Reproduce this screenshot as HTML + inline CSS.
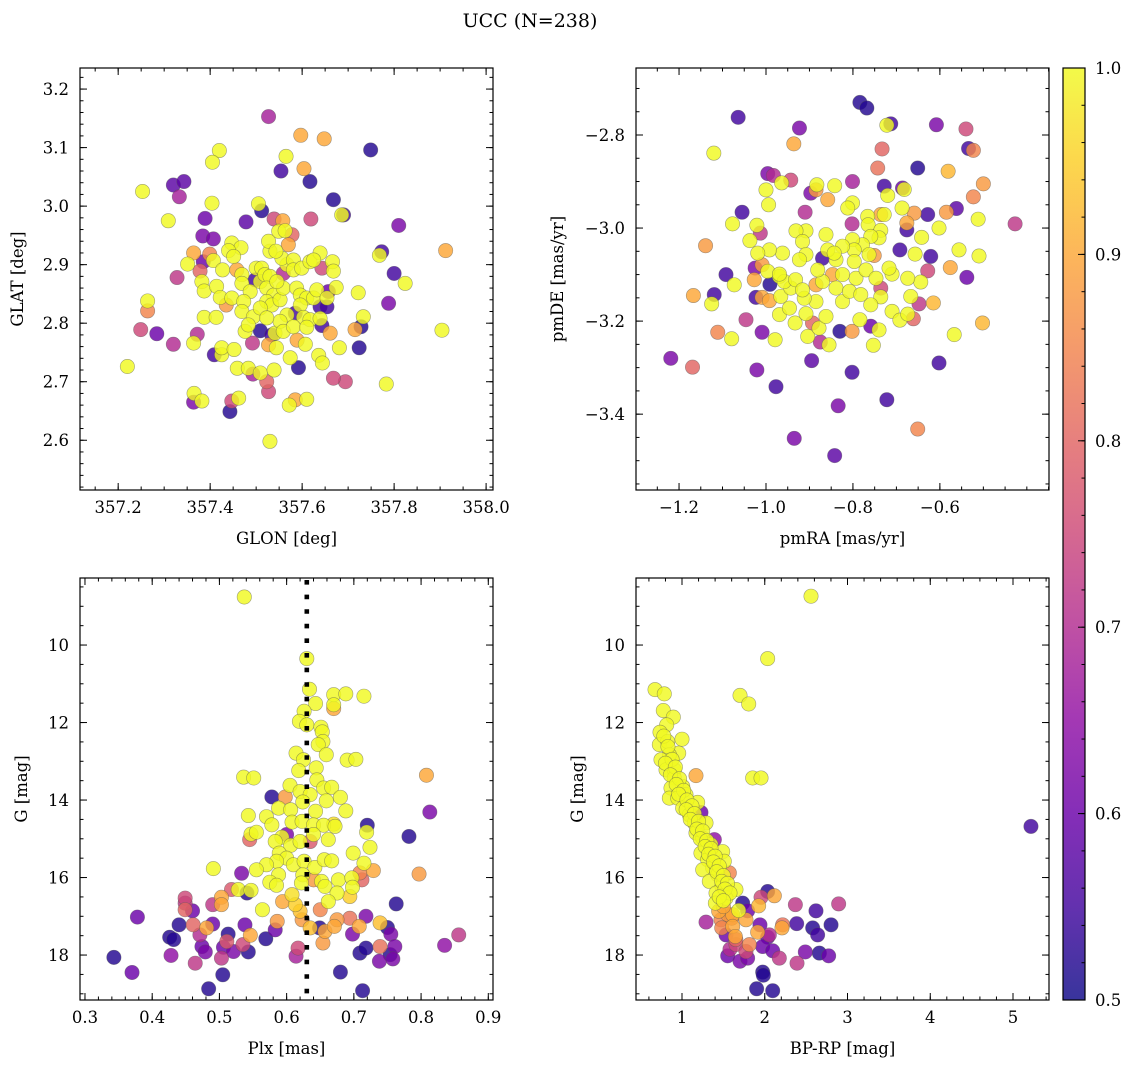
<!DOCTYPE html>
<html><head><meta charset="utf-8"><title>UCC (N=238)</title>
<style>
html,body{margin:0;padding:0;background:#fff;}
svg{display:block;font-family:"DejaVu Serif","Liberation Serif",serif;}
</style></head>
<body>
<svg id="fig" width="1136" height="1067" viewBox="0 0 1136 1067" xmlns="http://www.w3.org/2000/svg">
<text x="530" y="27" font-size="19" text-anchor="middle">UCC (N=238)</text>
</svg>
<script>
// ---------- Panel 1: GLON vs GLAT ----------
const p1Glon=[
357.527,357.597,357.648,357.749,357.420,357.405,357.565,357.554,357.604,357.617,
357.320,357.343,357.333,357.253,357.404,357.505,357.512,357.668,357.690,357.686,
357.389,357.478,357.539,357.558,357.619,357.309,357.810,357.384,357.407,357.578,
357.549,357.563,357.912,357.773,357.768,357.800,357.824,357.788,357.722,357.733,
357.715,357.728,357.724,357.904,357.783,357.694,357.668,357.610,357.572,357.585,
357.527,357.530,357.443,357.447,357.462,357.365,357.364,357.382,357.220,357.249,
357.284,357.264,357.264,357.320,357.364,357.372,357.409,357.425,357.425,357.452,
357.387,357.413,357.492,357.509,357.534,357.541,357.527,357.544,357.589,357.607,
357.574,357.592,357.636,357.644,357.681,357.643,357.661,357.459,357.483,357.509,
357.493,357.523,357.539,357.328,357.378,357.385,357.364,357.399,357.351,357.407,
357.427,357.382,357.387,357.447,357.467,357.440,357.451,357.414,357.422,357.447,
357.435,357.458,357.469,357.469,357.487,357.473,357.469,357.494,357.476,357.483,
357.500,357.512,357.509,357.498,357.519,357.530,357.523,357.538,357.523,357.534,
357.509,357.552,357.559,357.545,357.559,357.567,357.556,357.530,357.527,357.543,
357.570,357.581,357.581,357.599,357.617,357.639,357.625,357.666,357.668,357.643,
357.588,357.596,357.610,357.625,357.632,357.654,357.657,357.674,357.639,357.654,
357.585,357.596,357.567,357.603,357.617,357.639,357.552,357.523,357.559,357.581,
357.610];
const p1Glat=[
3.153,3.121,3.115,3.096,3.095,3.075,3.085,3.060,3.064,3.042,
3.036,3.042,3.016,3.025,3.005,3.004,2.992,3.011,2.985,2.985,
2.979,2.973,2.978,2.975,2.978,2.975,2.967,2.949,2.944,2.951,
2.957,2.958,2.924,2.922,2.916,2.885,2.868,2.834,2.852,2.811,
2.789,2.794,2.758,2.788,2.696,2.700,2.706,2.670,2.660,2.669,
2.683,2.598,2.649,2.667,2.672,2.680,2.665,2.667,2.726,2.789,
2.782,2.821,2.838,2.764,2.766,2.781,2.746,2.746,2.758,2.755,
2.810,2.810,2.766,2.787,2.780,2.783,2.763,2.758,2.771,2.764,
2.741,2.724,2.745,2.732,2.758,2.796,2.783,2.723,2.723,2.715,
2.713,2.700,2.720,2.878,2.889,2.905,2.920,2.918,2.901,2.907,
2.891,2.871,2.855,2.937,2.929,2.924,2.914,2.863,2.844,2.843,
2.831,2.891,2.883,2.868,2.854,2.837,2.820,2.811,2.786,2.797,
2.894,2.894,2.871,2.874,2.883,2.880,2.860,2.848,2.837,2.831,
2.826,2.840,2.860,2.871,2.885,2.900,2.911,2.923,2.940,2.923,
2.934,2.908,2.891,2.894,2.905,2.920,2.908,2.905,2.889,2.894,
2.860,2.848,2.843,2.843,2.857,2.843,2.854,2.861,2.828,2.828,
2.817,2.831,2.814,2.810,2.806,2.808,2.803,2.809,2.786,2.794,
2.793];
const p1Prob=[
.68,.9,.9,.52,1,1,1,.55,.9,.52,
.58,.58,.68,1,1,1,.52,.52,.55,1,
.6,.58,.75,.9,.75,1,.62,.62,.62,.8,
1,1,.9,.55,1,.55,1,.62,1,1,
.9,.52,.52,1,1,.75,.75,1,1,.9,
.75,1,.52,.75,1,1,.62,1,1,.75,
.6,.85,1,.7,1,.7,.55,1,1,1,
1,1,.72,.52,.55,1,.9,1,.9,1,
1,.52,1,1,1,.55,.9,1,1,1,
.68,.8,1,.72,.8,.6,.9,.85,1,1,
1,1,1,1,1,1,1,1,1,1,
.88,.9,1,1,1,1,1,1,1,1,
1,1,1,.55,1,1,1,1,1,1,
1,1,1,1,.7,1,1,1,1,1,
.9,1,1,1,1,1,1,1,1,.75,
1,1,1,1,1,1,.6,1,.55,.55,
.55,1,1,1,1,1,1,1,1,1,
1];

// ---------- Panel 2: pmRA vs pmDE ----------
const p2PmRA=[
-0.784,-0.768,-1.064,-0.923,-0.713,-0.722,-0.608,-0.540,-0.534,-0.523,
-0.936,-0.733,-1.120,-0.743,-0.651,-0.581,-0.500,-0.523,-0.996,-0.983,
-0.943,-0.964,-1.000,-0.994,-0.883,-0.897,-0.885,-0.842,-0.858,-0.801,
-0.728,-0.686,-0.720,-0.682,-0.801,-0.812,-0.910,-1.055,-1.077,-1.021,
-1.013,-1.037,-0.766,-0.736,-0.728,-0.687,-0.659,-0.628,-0.585,-0.562,
-0.512,-0.427,-0.676,-0.676,-0.602,-0.642,-0.802,-0.765,-0.736,-1.139,
-1.092,-1.073,-1.025,-1.009,-1.027,-0.991,-1.023,-1.009,-0.992,-1.167,
-1.119,-1.125,-1.046,-1.111,-1.079,-1.009,-0.979,-1.219,-1.169,-1.021,
-0.977,-0.895,-0.834,-0.802,-0.722,-0.602,-0.651,-0.935,-0.842,-0.567,
-0.502,-0.615,-0.648,-0.667,-0.576,-0.538,-0.556,-0.510,-0.628,-0.621,
-0.657,-0.692,-0.644,-0.674,-0.710,-0.736,-0.736,-0.710,-0.692,-0.674,
-0.661,-0.759,-0.784,-0.759,-0.740,-0.753,-0.802,-0.830,-0.855,-0.875,
-0.904,-0.878,-0.933,-0.969,-0.946,-0.893,-0.862,-0.908,-0.885,-0.912,
-0.966,-0.943,-0.969,-0.958,-0.932,-0.916,-0.885,-0.870,-0.839,-0.824,
-0.808,-0.793,-0.782,-0.770,-0.747,-0.717,-0.740,-0.759,-0.778,-0.801,
-0.797,-0.824,-0.839,-0.862,-0.858,-0.843,-0.870,-0.908,-0.931,-0.916,
-0.908,-0.923,-0.962,-0.992,-1.019,-0.996,-0.969,-0.881,-0.847,-0.824,
-0.751,-0.763,-0.797];
const p2PmDE=[
-2.730,-2.742,-2.762,-2.785,-2.776,-2.779,-2.778,-2.787,-2.829,-2.833,
-2.819,-2.830,-2.839,-2.871,-2.871,-2.878,-2.905,-2.933,-2.883,-2.887,
-2.897,-2.903,-2.918,-2.950,-2.907,-2.925,-2.918,-2.909,-2.939,-2.900,
-2.910,-2.914,-2.930,-2.917,-2.946,-2.957,-2.966,-2.966,-2.991,-2.994,
-3.011,-3.027,-2.975,-2.971,-2.971,-2.957,-2.968,-2.971,-2.966,-2.958,
-2.981,-2.991,-2.989,-3.004,-3.000,-3.020,-2.991,-2.993,-3.005,-3.038,
-3.100,-3.122,-3.086,-3.079,-3.111,-3.121,-3.149,-3.149,-3.156,-3.145,
-3.143,-3.163,-3.197,-3.224,-3.238,-3.224,-3.240,-3.280,-3.299,-3.305,
-3.341,-3.285,-3.382,-3.310,-3.369,-3.290,-3.432,-3.452,-3.489,-3.229,
-3.204,-3.161,-3.163,-3.147,-3.085,-3.106,-3.047,-3.060,-3.092,-3.061,
-3.056,-3.047,-3.116,-3.108,-3.099,-3.129,-3.148,-3.179,-3.198,-3.185,
-3.195,-3.165,-3.197,-3.211,-3.219,-3.252,-3.222,-3.222,-3.251,-3.245,
-3.233,-3.215,-3.204,-3.186,-3.172,-3.204,-3.190,-3.184,-3.158,-3.151,
-3.147,-3.129,-3.104,-3.115,-3.111,-3.133,-3.122,-3.115,-3.129,-3.158,
-3.136,-3.108,-3.143,-3.090,-3.108,-3.086,-3.021,-3.018,-3.036,-3.025,
-3.047,-3.039,-3.068,-3.014,-3.047,-3.054,-3.065,-3.006,-3.006,-3.029,
-3.057,-3.068,-3.054,-3.047,-3.054,-3.093,-3.099,-3.090,-3.100,-3.100,
-3.059,-3.057,-3.072];
const p2Prob=[
.52,.52,.55,.62,.55,1,.62,.75,.55,.85,
.9,.8,1,.82,.52,.92,.88,.85,.62,.7,
.75,1,1,1,1,.62,.88,1,.9,.68,
.55,.6,1,1,1,1,.7,.55,1,1,
.72,1,1,.9,1,1,.88,.55,.88,.58,
1,.72,.9,.55,1,1,.7,1,1,.88,
.55,1,.62,.88,.9,.52,.55,.9,.9,.9,
.55,1,.72,.85,1,.62,1,.62,.8,.62,
.55,.58,.62,.55,.55,.55,.85,.62,.58,1,
.92,.92,.72,1,.9,.6,1,1,.75,.55,
1,.55,1,1,1,.75,1,1,1,1,
.8,1,1,.6,1,1,.88,.52,1,.7,
1,1,1,1,1,.8,1,1,1,1,
1,1,1,1,1,1,.9,1,1,1,
1,1,1,1,1,1,1,1,1,1,
1,1,1,1,1,1,.55,1,1,1,
1,1,1,1,1,1,1,1,.9,1,
.88,1,1];

// ---------- Panel 3: Plx vs G ----------
const p3Plx=[
0.537,0.630,0.634,0.643,0.670,0.688,0.715,0.670,0.670,0.626,
0.619,0.630,0.651,0.653,0.654,0.647,0.659,0.614,0.625,0.690,
0.703,0.644,0.618,0.536,0.551,0.808,0.605,0.645,0.578,0.598,
0.620,0.635,0.655,0.667,0.680,0.659,0.588,0.606,0.624,0.643,
0.688,0.813,0.543,0.570,0.578,0.608,0.623,0.640,0.655,0.670,
0.720,0.719,0.672,0.547,0.555,0.545,0.600,0.593,0.583,0.606,
0.620,0.640,0.662,0.635,0.724,0.699,0.782,0.589,0.600,0.585,
0.570,0.555,0.491,0.533,0.610,0.626,0.642,0.656,0.667,0.715,
0.729,0.797,0.588,0.575,0.585,0.624,0.622,0.640,0.652,0.657,
0.677,0.697,0.698,0.675,0.709,0.712,0.518,0.528,0.541,0.547,
0.503,0.503,0.490,0.449,0.449,0.449,0.460,0.564,0.594,0.608,
0.613,0.620,0.662,0.694,0.650,0.763,0.378,0.440,0.461,0.490,
0.481,0.538,0.586,0.583,0.623,0.635,0.649,0.657,0.675,0.671,
0.694,0.708,0.718,0.739,0.750,0.755,0.698,0.426,0.432,0.471,
0.513,0.546,0.569,0.511,0.535,0.474,0.479,0.506,0.521,0.543,
0.617,0.614,0.654,0.709,0.718,0.739,0.761,0.835,0.856,0.343,
0.428,0.464,0.503,0.370,0.505,0.484,0.680,0.713,0.738,0.758,
0.754];
const p3G=[
8.76,10.35,11.14,11.51,11.28,11.26,11.32,11.54,11.64,11.71,
11.97,12.06,12.12,12.24,12.49,12.57,12.83,12.79,12.96,12.97,
12.95,13.17,13.24,13.41,13.43,13.36,13.62,13.48,13.92,13.92,
13.78,13.86,13.69,13.67,13.93,14.02,14.21,14.25,14.05,14.29,
14.28,14.31,14.40,14.43,14.64,14.57,14.55,14.64,14.65,14.62,
14.65,14.83,14.68,14.88,14.83,15.02,14.89,14.96,15.07,15.17,
15.07,14.89,15.02,15.07,15.22,15.37,14.94,15.37,15.50,15.58,
15.67,15.80,15.77,15.89,15.67,15.58,15.74,15.54,15.57,15.63,
15.82,15.91,15.93,16.12,16.20,15.93,16.14,16.06,16.10,16.23,
16.06,16.01,16.25,16.40,15.88,16.06,16.31,16.31,16.40,16.33,
16.51,16.70,16.70,16.53,16.66,16.83,16.86,16.83,16.62,16.44,
16.70,16.87,16.62,16.49,16.83,16.68,17.02,17.22,17.22,17.20,
17.30,17.22,17.13,17.35,17.09,17.30,17.30,17.39,17.09,17.26,
17.05,17.26,17.00,17.17,17.29,17.46,17.46,17.54,17.60,17.48,
17.46,17.49,17.58,17.65,17.73,17.78,17.92,17.80,17.91,17.92,
17.82,18.03,17.69,17.95,17.82,17.78,17.78,17.75,17.48,18.06,
18.01,18.21,18.08,18.45,18.51,18.87,18.44,18.92,18.16,18.10,
17.99];
const p3Prob=[
1,1,1,1,1,1,1,1,.9,1,
1,1,1,1,1,1,1,1,1,1,
1,1,1,1,1,.9,1,1,.52,.88,
1,1,1,1,1,1,1,1,1,1,
1,.62,1,1,1,1,1,1,1,.97,
.52,1,1,1,1,.8,.62,1,1,1,
1,1,1,.78,1,1,.52,1,1,1,
1,1,1,.62,1,1,1,1,1,1,
.9,.88,1,1,1,1,1,.88,1,1,
1,1,1,1,.85,.8,.78,1,.52,1,
.9,.9,.72,.75,.72,.8,.6,1,.9,.97,
.95,.93,1,.95,.85,.52,.6,.52,.8,.6,
.9,.6,.88,.6,.88,.93,.52,.9,.88,.9,
.82,.9,.62,.93,.52,.62,.62,.52,.52,.7,
.52,.9,.52,.78,.75,.6,.62,.6,.62,.52,
.75,.68,.88,.52,.52,.82,.62,.65,.72,.52,
.65,.72,.72,.6,.52,.52,.52,.52,.62,.62,
.52];
const plxRef=[0.63];

// ---------- Panel 4: BP-RP vs G ----------
const p4BpRp=[
2.559,2.035,1.701,1.806,0.674,0.786,0.774,0.895,0.815,0.734,
1.000,0.726,0.827,0.960,0.847,0.746,0.807,0.907,1.169,1.854,
1.955,0.907,1.008,0.867,0.847,0.948,1.048,1.189,1.229,1.008,
1.089,1.149,1.290,1.169,1.250,1.391,1.350,1.491,1.229,1.310,
1.511,1.370,1.250,1.572,1.431,1.330,1.483,1.652,1.411,1.532,
2.035,2.116,1.955,1.926,1.403,1.685,1.733,1.793,2.370,2.893,
2.619,1.443,1.612,1.290,1.471,1.773,1.612,1.942,2.216,2.386,
2.208,2.579,2.801,1.532,1.644,1.914,2.055,2.035,2.639,1.652,
1.814,1.975,2.096,2.490,2.660,2.772,2.176,1.552,1.701,1.793,
1.773,2.390,1.975,1.983,1.902,2.096,5.217,0.78,0.83,0.88,
0.80,0.92,0.86,0.97,0.93,1.02,0.96,1.06,1.12,1.05,
1.15,1.10,1.20,1.18,1.25,1.22,1.30,1.28,1.35,1.32,
1.40,1.38,1.45,1.42,1.50,1.48,1.55,1.52,1.58,1.45,
1.50,1.50,1.55,1.60,1.48,1.65,1.58];
const p4G=[
8.74,10.35,11.30,11.52,11.15,11.26,11.69,11.86,12.06,12.25,
12.43,12.57,12.49,12.79,12.83,12.96,13.22,13.22,13.37,13.43,
13.43,13.43,13.65,13.69,13.95,13.95,13.86,14.06,14.32,14.21,
14.38,14.59,14.59,14.85,14.98,15.02,15.15,15.33,15.37,15.54,
15.58,15.75,15.80,15.88,15.93,16.10,16.23,16.31,16.40,16.53,
16.36,16.47,16.51,16.73,16.66,16.85,16.66,16.86,16.70,16.68,
16.86,16.87,16.96,17.15,17.09,17.09,17.26,17.22,17.22,17.19,
17.30,17.30,17.22,17.48,17.52,17.41,17.48,17.54,17.48,17.73,
17.73,17.78,17.89,17.92,17.95,18.02,18.08,18.02,18.16,18.08,
17.91,18.21,18.44,18.52,18.87,18.92,14.68,12.35,12.62,12.95,
13.05,13.15,13.35,13.45,13.60,13.75,13.85,14.00,14.15,14.25,
14.35,14.50,14.55,14.75,14.80,15.00,15.05,15.20,15.25,15.40,
15.45,15.60,15.70,15.85,15.95,16.10,16.15,16.30,16.40,16.50,
16.60,16.75,16.95,17.05,17.30,17.60,17.85];
const p4Prob=[
1,1,1,1,1,1,1,1,1,1,
1,1,1,1,1,1,1,1,.9,1,
1,1,1,1,1,1,1,1,.6,1,
1,1,1,1,1,.65,1,1,1,1,
1,1,1,.85,1,1,1,1,1,1,
.52,.9,.75,.92,1,1,.52,.6,.72,.72,
.55,.9,.9,.68,.85,.9,.9,.6,.82,.55,
.9,.52,.52,.6,.9,.9,.7,.6,.55,.75,
.85,.6,.6,.62,.52,.6,.72,.6,.62,.62,
.75,.72,.52,.52,.52,.52,.55,1,1,1,
1,1,1,1,1,1,1,1,1,1,
1,1,1,1,1,1,1,1,1,1,
1,1,1,1,1,1,1,1,1,1,
1,.9,.88,.85,.85,.8,.7];

// ---------- Colorbar ----------
const cbTicks=[0.5,0.6,0.7,0.8,0.9,1.0];

// ---------- helpers ----------
const NS='http://www.w3.org/2000/svg';
const svg=document.getElementById('fig');
function mk(tag,attrs,parent){const e=document.createElementNS(NS,tag);for(const k in attrs)e.setAttribute(k,attrs[k]);(parent||svg).appendChild(e);return e;}
const stops=[[13,8,135],[65,4,157],[106,0,168],[143,13,164],[177,42,144],[204,71,120],[225,100,98],[242,132,75],[252,166,54],[252,206,37],[240,249,33]];
function plasma(t){t=Math.max(0,Math.min(1,t));const f=t*10;const i=Math.min(9,Math.floor(f));const r=f-i;const a=stops[i],b=stops[i+1];
return 'rgb('+Math.round(a[0]+(b[0]-a[0])*r)+','+Math.round(a[1]+(b[1]-a[1])*r)+','+Math.round(a[2]+(b[2]-a[2])*r)+')';}
function probColor(p){return plasma((p-0.5)/0.5);}
function fmt(v,d){const s=v.toFixed(d);return v<0?'\u2212'+s.slice(1):s;}
function range(a,b,s){const out=[];for(let v=a;v<=b+s*1e-6;v+=s)out.push(Math.round(v/s)*s);return out;}
const FS=16.5;

function panel(cfg){
  const {name,L,T,W,H,xmin,xmax,ymin,ymax,invY}=cfg;
  const sx=v=>L+(v-xmin)/(xmax-xmin)*W;
  const sy=invY?(v=>T+(v-ymin)/(ymax-ymin)*H):(v=>T+H-(v-ymin)/(ymax-ymin)*H);
  const g=mk('g',{});
  
  
  const cid=name+'-clip';
  const cp=mk('clipPath',{id:cid},g);mk('rect',{x:L,y:T,width:W,height:H},cp);
  const pts=mk('g',{'clip-path':'url(#'+cid+')'},g);
  
  
  const idx=cfg.xs.map((_,i)=>i).sort((a,b)=>cfg.ps[a]-cfg.ps[b]);
  idx.forEach(i=>{
    const c=mk('circle',{cx:sx(cfg.xs[i]).toFixed(2),cy:sy(cfg.ys[i]).toFixed(2),r:7.2,fill:probColor(cfg.ps[i]),'fill-opacity':0.82,stroke:'#555','stroke-opacity':0.55,'stroke-width':0.6},pts);
    
    
  });
  if(cfg.after)cfg.after(g,sx,sy);
  const ax=mk('g',{stroke:'#000','stroke-width':1},g);
  
  
  mk('rect',{x:L,y:T,width:W,height:H,fill:'none','stroke-width':1.2},ax);
  const xMaj=cfg.xMaj,yMaj=cfg.yMaj;
  cfg.xMin.forEach(v=>{const x=sx(v);if(x<L||x>L+W)return;mk('line',{x1:x,y1:T+H,x2:x,y2:T+H-3.5},ax);mk('line',{x1:x,y1:T,x2:x,y2:T+3.5},ax);});
  cfg.yMin.forEach(v=>{const y=sy(v);if(y<T||y>T+H)return;mk('line',{x1:L,y1:y,x2:L+3.5,y2:y},ax);mk('line',{x1:L+W,y1:y,x2:L+W-3.5,y2:y},ax);});
  xMaj.forEach(v=>{const x=sx(v);mk('line',{x1:x,y1:T+H,x2:x,y2:T+H-7},ax);mk('line',{x1:x,y1:T,x2:x,y2:T+7},ax);
    const t=mk('text',{x:x,y:T+H+23,'font-size':FS,'text-anchor':'middle',stroke:'none',fill:'#000'},g);t.textContent=fmt(v,cfg.xd);
    
    });
  yMaj.forEach(v=>{const y=sy(v);mk('line',{x1:L,y1:y,x2:L+7,y2:y},ax);mk('line',{x1:L+W,y1:y,x2:L+W-7,y2:y},ax);
    const t=mk('text',{x:L-11,y:y+6,'font-size':FS,'text-anchor':'end',fill:'#000'},g);t.textContent=fmt(v,cfg.yd);
    
    });
  const xl=mk('text',{x:L+W/2,y:T+H+54,'font-size':FS,'text-anchor':'middle'},g);xl.textContent=cfg.xlabel;
  
  
  const yx=cfg.ylx,yy=T+H/2;
  const yl=mk('text',{x:yx,y:yy,'font-size':FS,'text-anchor':'middle',transform:'rotate(-90 '+yx+' '+yy+')'},g);yl.textContent=cfg.ylabel;
  
  
}

panel({name:'glon-glat',L:80,T:68,W:413,H:422,xmin:357.117,xmax:358.015,ymin:2.515,ymax:3.236,
  xs:p1Glon,ys:p1Glat,ps:p1Prob,xMaj:range(357.2,358.0,0.2),xMin:range(357.1,358.0,0.05),xd:1,
  yMaj:range(2.6,3.2,0.1),yMin:range(2.52,3.24,0.02),yd:1,xlabel:'GLON [deg]',ylabel:'GLAT [deg]',ylx:23});
panel({name:'pmra-pmde',L:636,T:68,W:413,H:422,xmin:-1.299,xmax:-0.349,ymin:-3.563,ymax:-2.656,
  xs:p2PmRA,ys:p2PmDE,ps:p2Prob,xMaj:range(-1.2,-0.6,0.2),xMin:range(-1.3,-0.35,0.05),xd:1,
  yMaj:range(-3.4,-2.8,0.2),yMin:range(-3.55,-2.65,0.05),yd:1,xlabel:'pmRA [mas/yr]',ylabel:'pmDE [mas/yr]',ylx:563});
panel({name:'plx-g',L:80,T:578,W:413,H:422,xmin:0.2926,xmax:0.907,ymin:8.27,ymax:19.16,invY:true,
  xs:p3Plx,ys:p3G,ps:p3Prob,xMaj:range(0.3,0.9,0.1),xMin:range(0.3,0.9,0.02),xd:1,
  yMaj:range(10,18,2),yMin:range(8.5,19,0.5),yd:0,xlabel:'Plx [mas]',ylabel:'G [mag]',ylx:27,
  after:(g,sx,sy)=>{const x=sx(plxRef[0]);const l=mk('line',{x1:x,y1:580,x2:x,y2:1000,stroke:'#000','stroke-width':4.6,'stroke-dasharray':'4.6 10'},g);
    
    }});
panel({name:'bprp-g',L:636,T:578,W:413,H:422,xmin:0.444,xmax:5.435,ymin:8.27,ymax:19.16,invY:true,
  xs:p4BpRp,ys:p4G,ps:p4Prob,xMaj:range(1,5,1),xMin:range(0.6,5.4,0.2),xd:0,
  yMaj:range(10,18,2),yMin:range(8.5,19,0.5),yd:0,xlabel:'BP-RP [mag]',ylabel:'G [mag]',ylx:583});

// colorbar
(function(){
  const L=1063,T=68,W=22,H=932;
  const cg=mk('g',{});
  
  
  const defs=mk('defs',{},cg);
  const lg=mk('linearGradient',{id:'cbgrad',x1:0,y1:1,x2:0,y2:0},defs);
  for(let i=0;i<=10;i++){mk('stop',{offset:(i/10),'stop-color':plasma(i/10)},lg);}
  mk('rect',{x:L,y:T,width:W,height:H,fill:'url(#cbgrad)','fill-opacity':0.82},cg);
  mk('rect',{x:L,y:T,width:W,height:H,fill:'none',stroke:'#000','stroke-width':1.2},cg);
  const sy=v=>T+H-(v-0.5)/0.5*H;
  range(0.5,1.0,0.02).forEach(v=>{mk('line',{x1:L+W,y1:sy(v),x2:L+W-3.5,y2:sy(v),stroke:'#000'},cg);});
  cbTicks.forEach(v=>{mk('line',{x1:L+W,y1:sy(v),x2:L+W-7,y2:sy(v),stroke:'#000'},cg);
    const t=mk('text',{x:L+W+10,y:sy(v)+6,'font-size':FS},cg);t.textContent=v.toFixed(1);
    
    });
})();
</script>
</body></html>
